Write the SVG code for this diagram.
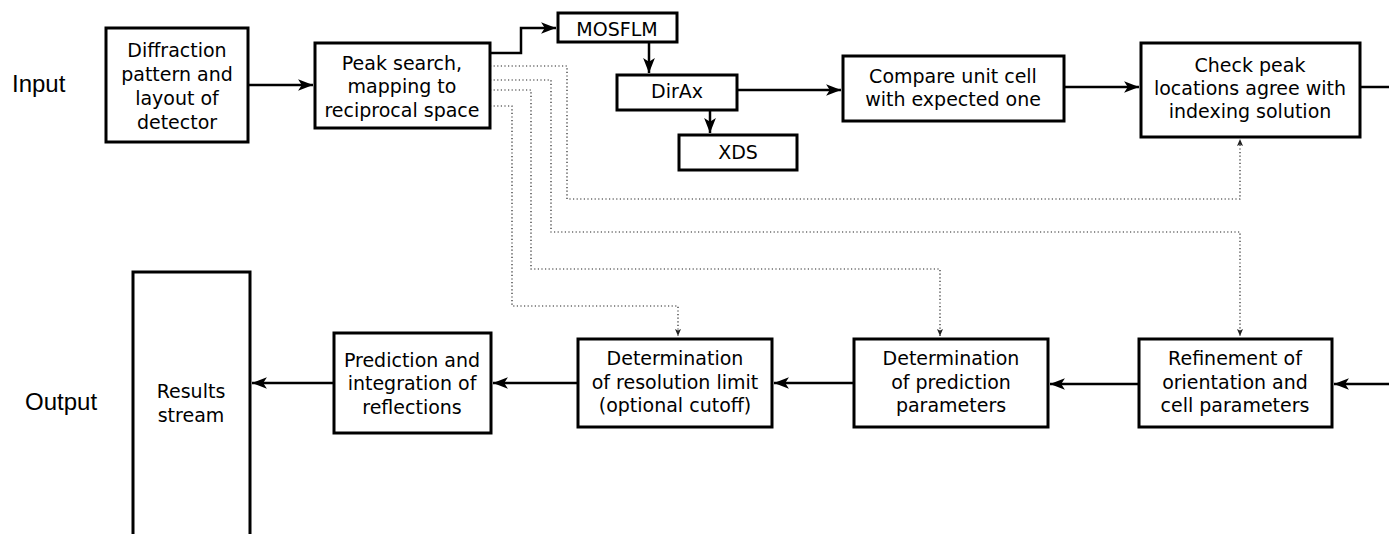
<svg xmlns="http://www.w3.org/2000/svg" width="1389" height="534" viewBox="0 0 1389 534">
<style>
.box{fill:#fff;stroke:#000;stroke-width:3}
.t{font-family:"DejaVu Sans",sans-serif;font-size:19px;text-anchor:middle;fill:#000}
.lbl{font-family:"Liberation Sans",Arial,sans-serif;font-size:24px;fill:#000}
.c{fill:none;stroke:#000;stroke-width:2.5}
.d{fill:none;stroke:#222;stroke-width:1.2;stroke-dasharray:1.2,2.4}
</style>
<defs>
<marker id="a" markerUnits="userSpaceOnUse" markerWidth="16" markerHeight="12" refX="14" refY="5.5" orient="auto" viewBox="0 0 15 11">
<path d="M0,0 L14,5.5 L0,11 L3.5,5.5 z" fill="#000"/>
</marker>
<marker id="ad" markerUnits="userSpaceOnUse" markerWidth="8" markerHeight="8" refX="7" refY="3" orient="auto" viewBox="0 0 8 6">
<path d="M0,0 L7,3 L0,6 L1.5,3 z" fill="#222"/>
</marker>
</defs>
<text class="lbl" x="12" y="92">Input</text>
<text class="lbl" x="25" y="410">Output</text>
<g id="connectors">
<path class="c" d="M248,85 H313" marker-end="url(#a)"/>
<path class="c" d="M490,53 H521 V28 H556" marker-end="url(#a)"/>
<path class="c" d="M649,42 V73" marker-end="url(#a)"/>
<path class="c" d="M710,110 V133" marker-end="url(#a)"/>
<path class="c" d="M737,90 H841" marker-end="url(#a)"/>
<path class="c" d="M1064,87 H1139" marker-end="url(#a)"/>
<path class="c" d="M1360,87 H1389"/>
<path class="c" d="M1389,384 H1334" marker-end="url(#a)"/>
<path class="c" d="M1139,384 H1050" marker-end="url(#a)"/>
<path class="c" d="M854,383 H774" marker-end="url(#a)"/>
<path class="c" d="M578,383 H493" marker-end="url(#a)"/>
<path class="c" d="M334,383 H252" marker-end="url(#a)"/>
<path class="d" d="M490,66 H567 V199 H1240 V139" marker-end="url(#ad)"/>
<path class="d" d="M490,80 H551 V232 H1240 V336" marker-end="url(#ad)"/>
<path class="d" d="M490,90 H531 V269 H940 V336" marker-end="url(#ad)"/>
<path class="d" d="M490,106 H512 V306 H678 V336" marker-end="url(#ad)"/>
</g>
<g id="diffraction">
<rect class="box" x="106" y="28" width="142" height="114"/>
<text class="t" x="177" y="57">Diffraction</text>
<text class="t" x="177" y="81">pattern and</text>
<text class="t" x="177" y="105">layout of</text>
<text class="t" x="177" y="129">detector</text>
</g>
<g id="peaksearch">
<rect class="box" x="315" y="43" width="175" height="85"/>
<text class="t" x="402" y="70">Peak search,</text>
<text class="t" x="402" y="93">mapping to</text>
<text class="t" x="402" y="117">reciprocal space</text>
</g>
<g id="mosflm">
<rect class="box" x="558" y="13" width="119" height="29"/>
<text class="t" x="617" y="36">MOSFLM</text>
</g>
<g id="dirax">
<rect class="box" x="617" y="75" width="120" height="35"/>
<text class="t" x="677" y="98">DirAx</text>
</g>
<g id="xds">
<rect class="box" x="679" y="135" width="118" height="35"/>
<text class="t" x="738" y="159">XDS</text>
</g>
<g id="compare">
<rect class="box" x="843" y="56" width="221" height="65"/>
<text class="t" x="953" y="83">Compare unit cell</text>
<text class="t" x="953" y="106">with expected one</text>
</g>
<g id="check">
<rect class="box" x="1141" y="43" width="219" height="94"/>
<text class="t" x="1250" y="72">Check peak</text>
<text class="t" x="1250" y="95">locations agree with</text>
<text class="t" x="1250" y="118">indexing solution</text>
</g>
<g id="refinement">
<rect class="box" x="1139" y="339" width="193" height="88"/>
<text class="t" x="1235" y="365">Refinement of</text>
<text class="t" x="1235" y="389">orientation and</text>
<text class="t" x="1235" y="412">cell parameters</text>
</g>
<g id="prediction-params">
<rect class="box" x="854" y="339" width="194" height="88"/>
<text class="t" x="951" y="365">Determination</text>
<text class="t" x="951" y="389">of prediction</text>
<text class="t" x="951" y="412">parameters</text>
</g>
<g id="resolution">
<rect class="box" x="578" y="339" width="194" height="88"/>
<text class="t" x="675" y="365">Determination</text>
<text class="t" x="675" y="389">of resolution limit</text>
<text class="t" x="675" y="412">(optional cutoff)</text>
</g>
<g id="integration">
<rect class="box" x="334" y="333" width="157" height="100"/>
<text class="t" x="412" y="367">Prediction and</text>
<text class="t" x="412" y="390">integration of</text>
<text class="t" x="412" y="414">reflections</text>
</g>
<g id="results">
<path class="box" d="M133,540 V272 H250 V540"/>
<text class="t" x="191" y="398">Results</text>
<text class="t" x="191" y="422">stream</text>
</g>
</svg>
